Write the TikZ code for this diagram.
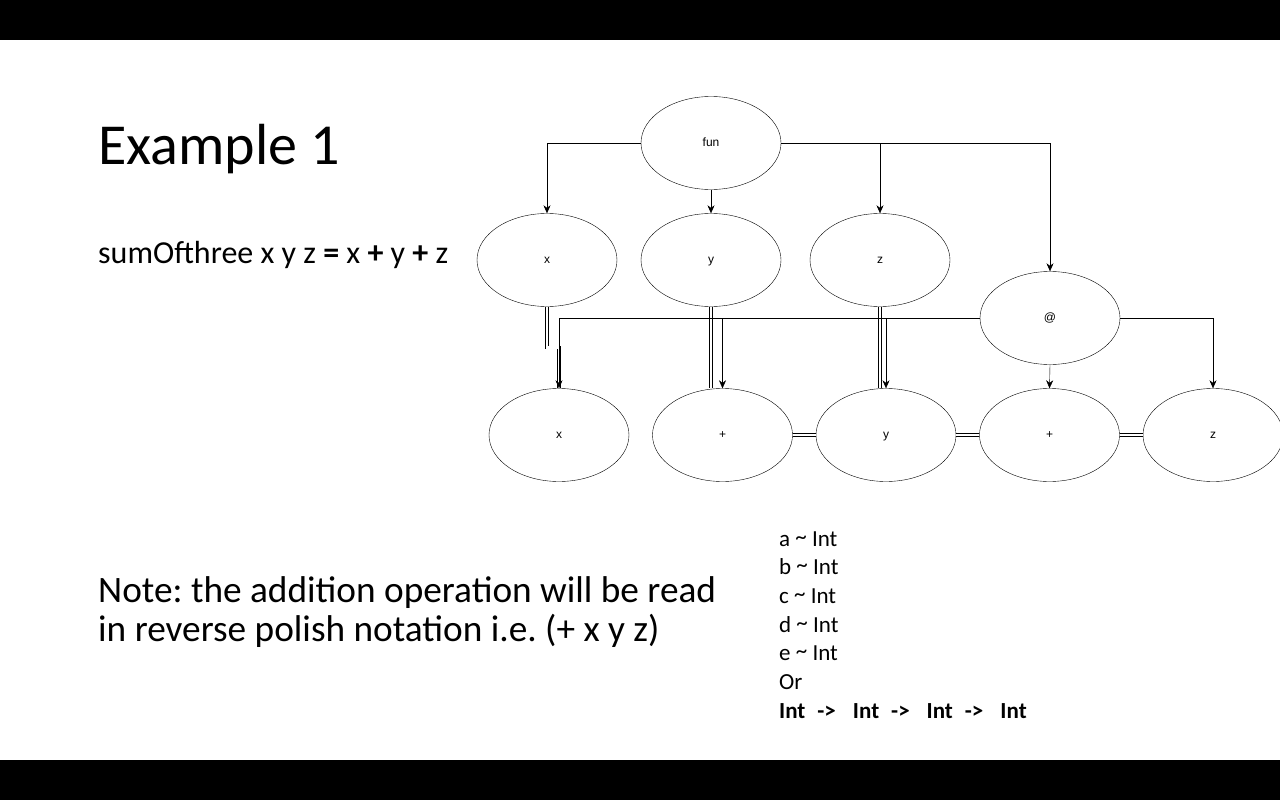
\documentclass[tikz,border=0pt]{standalone}
\usepackage{fontspec}
\setmainfont{Carlito}
\newfontfamily\labelfont{Liberation Sans}
\usetikzlibrary{shapes.geometric,arrows.meta}
\frenchspacing

\begin{document}
\begin{tikzpicture}[x=1pt, y=-1pt, node distance={163.5pt},
    main/.style = {draw, ellipse, minimum width=140pt, minimum height=93pt, inner sep=0pt, text height=8pt, text depth=2pt, font=\labelfont\fontsize{12}{14}\selectfont},
    link/.style = {double, double distance=2.5pt},
    txt/.style = {anchor=base west, inner sep=0pt},
    >={Stealth[length=8pt,width=7pt]}]
          % slide frame
          \fill[white] (0,0) rectangle (1280,800);
          \fill[black] (0,0) rectangle (1280,40);
          \fill[black] (0,760) rectangle (1280,800);
          \useasboundingbox (0,0) rectangle (1280,800);

          \node[txt, font=\fontsize{58}{68}\selectfont] (title) at (98,164) {Example 1};
          \node[txt, font=\fontsize{32}{38}\selectfont] (def) at (98,263) {sumOfthree x y z \textbf{=} x \textbf{+} y \textbf{+} z};
          \node[txt, font=\fontsize{37.3}{40}\selectfont] (note_1) at (98,602) {Note: the addition operation will be read};
          \node[txt, font=\fontsize{37.3}{40}\selectfont] (note_2) at (98,641) {in reverse polish notation i.e. (+ x y z)};

          % type constraints
          \foreach \v [count=\i] in {a,b,c,d,e}
            \node[txt, font=\fontsize{23}{28}\selectfont] (type_\v) at (779,517.3+28.7*\i) {\v\ \raisebox{2pt}{\textasciitilde}\ Int};
          \node[txt, font=\fontsize{23}{28}\selectfont] (type_or) at (779,689.5) {Or};
          \node[txt, font=\fontsize{23}{28}\selectfont\bfseries] (type_fun) at (779,718)
            {Int\hspace{12pt}->\hspace{17pt}Int\hspace{12pt}->\hspace{17pt}Int\hspace{12pt}->\hspace{17pt}Int};

          % graph
          \node[main] (fun) at (711,143) {fun};
          \node[main] (x_1) at (547,260) {x};
          \node[main] (y_1) at (711,260) {y};
          \node[main] (z_1) at (880,260) {z};
          \node[main] (app) at (1050,318) {@};
          \node[main] (x_2) at (559,435) {x};
          \node[main] (plus_1) [right of=x_2] {+};
          \node[main] (y_2) [right of=plus_1] {y};
          \node[main] (plus_2) [right of=y_2] {+};
          \node[main] (z_2) [right of=plus_2] {z};

          \draw[link] (x_1.south) -- ++(0,41) -| (x_2.north);
          \draw[link] (y_1.south) -- (y_1.south |- plus_1.north);
          \draw[link] (z_1.south) -- (z_1.south |- y_2.north);
          \draw[link] (plus_1) -- (y_2);
          \draw[link] (y_2) -- (plus_2);
          \draw[link] (plus_2) -- (z_2);

          \draw[->] (fun.west) -| (x_1.north);
          \draw[->] (fun.south) -- (y_1.north);
          \draw[->] (fun.east) -| (z_1.north);
          \draw[->] (fun.east) -| (app.north);
          \draw[->] (app.west) -| (x_2.north);
          \draw[->] (app.west) -| (plus_1.north);
          \draw[->] (app.west) -| (y_2.north);
          \draw[->] (app.south) -- (plus_2.north);
          \draw[->] (app.east) -| (z_2.north);
        \end{tikzpicture}
\end{document}
